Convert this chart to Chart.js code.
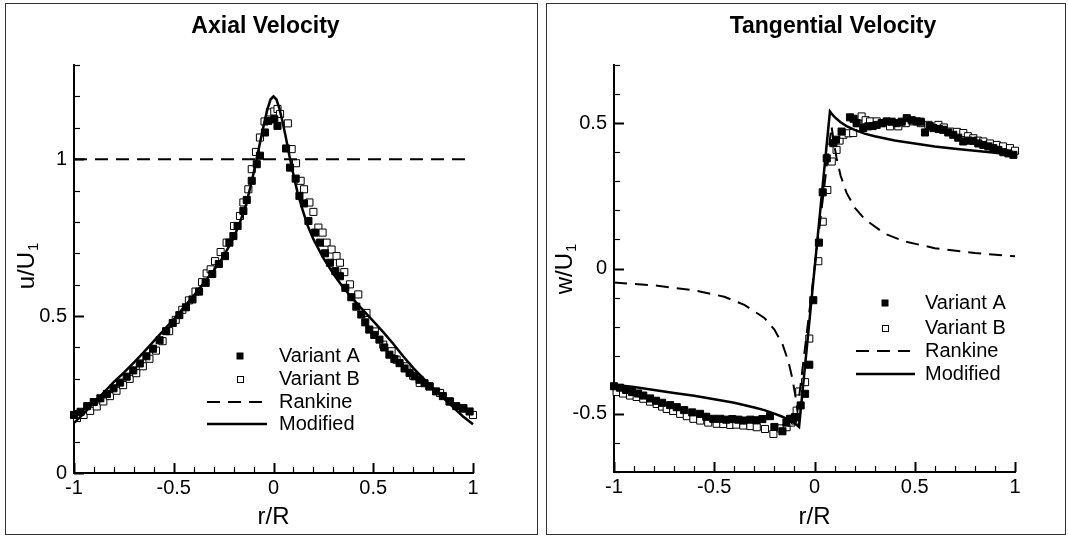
<!DOCTYPE html>
<html><head><meta charset="utf-8">
<script src="https://cdn.jsdelivr.net/npm/chart.js@4.4.1/dist/chart.umd.min.js"></script>
<style>
html,body{margin:0;padding:0;background:#fff;overflow:hidden;}
#wrap{position:relative;width:1068px;height:538px;overflow:hidden;}
.frame{position:absolute;border:1px solid #333;box-sizing:border-box;}
canvas{position:absolute;top:0;}
</style></head><body>
<div id="wrap">
<div class="frame" style="left:5px;top:3px;width:533px;height:532px"></div>
<div class="frame" style="left:546px;top:3px;width:520px;height:532px"></div>
<canvas id="c1" width="534" height="538" style="left:0"></canvas>
<canvas id="c2" width="600" height="538" style="left:534px"></canvas>
</div>
<script>
// ---------- Axial velocity (left panel) ----------
const axialModX = [-1,-0.95,-0.9,-0.85,-0.8,-0.75,-0.7,-0.65,-0.6,-0.55,-0.5,-0.45,-0.4,-0.35,-0.3,-0.25,-0.2,-0.17,-0.14,-0.12,-0.1,-0.08,-0.06,-0.045,-0.03,-0.015,0,0.015,0.03,0.045,0.06,0.08,0.1,0.12,0.14,0.17,0.2,0.25,0.3,0.35,0.4,0.45,0.5,0.55,0.6,0.65,0.7,0.75,0.8,0.85,0.9,0.95,1];
const axialModY = [0.16,0.19,0.225,0.257,0.29,0.32,0.352,0.385,0.42,0.455,0.49,0.527,0.565,0.605,0.645,0.69,0.75,0.795,0.85,0.9,0.955,1.015,1.075,1.12,1.16,1.19,1.2,1.19,1.16,1.12,1.075,1.01,0.95,0.895,0.85,0.79,0.745,0.685,0.635,0.59,0.553,0.518,0.484,0.449,0.412,0.372,0.335,0.302,0.27,0.24,0.21,0.18,0.155];
const axialRankX = [-1, 1];
const axialRankY = [1, 1];
const axialAX = [-1.000,-0.967,-0.934,-0.901,-0.868,-0.835,-0.802,-0.769,-0.736,-0.703,-0.670,-0.637,-0.604,-0.571,-0.538,-0.505,-0.472,-0.439,-0.406,-0.373,-0.340,-0.307,-0.274,-0.243,-0.221,-0.201,-0.180,-0.151,-0.134,-0.109,-0.084,-0.068,-0.043,-0.026,0.004,0.020,0.063,0.083,0.111,0.130,0.153,0.175,0.208,0.233,0.258,0.283,0.310,0.333,0.360,0.390,0.415,0.440,0.460,0.480,0.505,0.531,0.555,0.581,0.606,0.632,0.657,0.682,0.707,0.732,0.757,0.782,0.815,0.849,0.882,0.916,0.950,0.983];
const axialAY = [0.185,0.195,0.213,0.226,0.238,0.252,0.270,0.288,0.307,0.327,0.349,0.372,0.396,0.423,0.452,0.478,0.503,0.528,0.553,0.578,0.606,0.634,0.666,0.691,0.734,0.755,0.787,0.835,0.870,0.931,0.984,1.011,1.085,1.122,1.127,1.106,1.034,0.973,0.938,0.883,0.859,0.803,0.766,0.734,0.700,0.670,0.643,0.627,0.590,0.560,0.530,0.505,0.480,0.457,0.440,0.425,0.400,0.377,0.363,0.350,0.333,0.319,0.308,0.297,0.286,0.276,0.260,0.245,0.228,0.213,0.205,0.196];
const axialBX = [-0.985,-0.952,-0.919,-0.886,-0.853,-0.820,-0.787,-0.754,-0.721,-0.688,-0.655,-0.622,-0.589,-0.556,-0.523,-0.490,-0.457,-0.424,-0.391,-0.358,-0.335,-0.315,-0.293,-0.265,-0.235,-0.198,-0.168,-0.151,-0.126,-0.109,-0.088,-0.068,-0.045,-0.018,0.004,0.020,0.033,0.072,0.091,0.113,0.136,0.153,0.180,0.200,0.225,0.246,0.266,0.291,0.316,0.333,0.355,0.383,0.425,0.466,0.508,0.550,0.592,0.617,0.667,0.700,0.733,0.782,0.835,0.885,0.952,1.000];
const axialBY = [0.175,0.185,0.198,0.212,0.228,0.245,0.262,0.280,0.300,0.318,0.340,0.364,0.390,0.420,0.452,0.488,0.520,0.550,0.578,0.608,0.636,0.649,0.675,0.704,0.734,0.787,0.819,0.862,0.904,0.968,1.023,1.069,1.120,1.149,1.152,1.160,1.144,1.114,1.032,0.987,0.931,0.904,0.862,0.832,0.782,0.766,0.734,0.712,0.691,0.670,0.640,0.601,0.569,0.510,0.451,0.409,0.388,0.361,0.340,0.310,0.287,0.276,0.255,0.228,0.207,0.185];

// ---------- Tangential velocity (right panel) ----------
const tangModX = [-1,-0.9,-0.8,-0.7,-0.6,-0.5,-0.4,-0.3,-0.25,-0.2,-0.16,-0.13,-0.11,-0.095,-0.085,-0.077,0.077,0.085,0.095,0.11,0.13,0.16,0.2,0.25,0.3,0.4,0.5,0.6,0.7,0.8,0.9,1];
const tangModY = [-0.40,-0.408,-0.418,-0.428,-0.438,-0.45,-0.462,-0.478,-0.487,-0.499,-0.51,-0.52,-0.528,-0.535,-0.54,-0.545,0.54,0.533,0.525,0.515,0.503,0.49,0.477,0.464,0.455,0.44,0.43,0.42,0.412,0.405,0.398,0.39];
const tangRankX = [-1,-0.8,-0.6,-0.45,-0.35,-0.25,-0.2,-0.16,-0.13,-0.11,-0.095,-0.085,0,0.085,0.095,0.11,0.13,0.16,0.2,0.25,0.35,0.45,0.6,0.8,1];
const tangRankY = [-0.048,-0.058,-0.075,-0.097,-0.125,-0.17,-0.21,-0.26,-0.32,-0.38,-0.44,-0.49,0,0.49,0.44,0.38,0.32,0.26,0.21,0.17,0.12,0.093,0.07,0.053,0.042];
const tangAX = [-1.000,-0.970,-0.940,-0.910,-0.880,-0.854,-0.820,-0.790,-0.760,-0.720,-0.687,-0.650,-0.610,-0.571,-0.540,-0.505,-0.470,-0.440,-0.410,-0.380,-0.355,-0.320,-0.290,-0.260,-0.222,-0.200,-0.160,-0.140,-0.122,-0.106,-0.097,-0.069,-0.047,-0.026,-0.006,0.022,0.041,0.061,0.094,0.107,0.135,0.177,0.195,0.210,0.243,0.268,0.290,0.310,0.335,0.360,0.385,0.410,0.435,0.460,0.485,0.510,0.530,0.551,0.575,0.593,0.620,0.642,0.667,0.692,0.717,0.742,0.767,0.792,0.817,0.842,0.867,0.892,0.917,0.942,0.967,0.992];
const tangAY = [-0.405,-0.410,-0.418,-0.425,-0.430,-0.437,-0.447,-0.455,-0.462,-0.470,-0.477,-0.487,-0.495,-0.500,-0.510,-0.517,-0.517,-0.520,-0.518,-0.520,-0.523,-0.520,-0.522,-0.518,-0.508,-0.545,-0.560,-0.530,-0.517,-0.517,-0.511,-0.471,-0.431,-0.331,-0.109,0.089,0.262,0.379,0.431,0.443,0.471,0.520,0.515,0.500,0.483,0.489,0.490,0.494,0.500,0.506,0.505,0.500,0.505,0.517,0.510,0.506,0.505,0.468,0.490,0.483,0.480,0.477,0.468,0.460,0.450,0.437,0.440,0.439,0.430,0.425,0.420,0.414,0.408,0.400,0.396,0.391];
const tangBX = [-0.987,-0.955,-0.920,-0.887,-0.854,-0.820,-0.787,-0.760,-0.737,-0.705,-0.670,-0.637,-0.604,-0.570,-0.530,-0.488,-0.455,-0.420,-0.390,-0.355,-0.320,-0.288,-0.247,-0.205,-0.170,-0.139,-0.115,-0.097,-0.089,-0.076,-0.047,-0.026,0.019,0.041,0.064,0.086,0.110,0.125,0.144,0.170,0.193,0.215,0.235,0.255,0.277,0.310,0.340,0.377,0.418,0.455,0.493,0.530,0.568,0.618,0.645,0.676,0.710,0.742,0.765,0.792,0.815,0.842,0.875,0.909,0.940,0.975,1.000];
const tangBY = [-0.425,-0.430,-0.437,-0.442,-0.448,-0.458,-0.466,-0.475,-0.483,-0.490,-0.500,-0.508,-0.517,-0.523,-0.530,-0.534,-0.535,-0.538,-0.537,-0.540,-0.542,-0.546,-0.552,-0.569,-0.550,-0.546,-0.530,-0.523,-0.489,-0.423,-0.391,-0.241,0.025,0.161,0.270,0.368,0.408,0.440,0.460,0.465,0.466,0.500,0.523,0.510,0.506,0.506,0.500,0.489,0.489,0.500,0.506,0.500,0.494,0.494,0.485,0.471,0.470,0.466,0.455,0.448,0.440,0.437,0.430,0.425,0.420,0.414,0.405];

const seriesNames = ['Variant A', 'Variant B', 'Rankine', 'Modified'];

const FONT = "'Liberation Sans', Arial, Helvetica, sans-serif";
Chart.defaults.font.family = FONT;
Chart.defaults.color = '#000';

const pts = (xs, ys) => xs.map((x, i) => ({x: x, y: ys[i]}));
const isMajor = v => Math.abs(v * 2 - Math.round(v * 2)) < 1e-6;
const fmtTick = v => { const r = Math.round(v * 100) / 100; return isMajor(r) ? String(r === 0 ? 0 : r) : ''; };

const inwardTicks = {
  id: 'inwardTicks',
  beforeDatasetsDraw(chart) {
    const ctx = chart.ctx, a = chart.chartArea;
    const xs = chart.scales.x, ys = chart.scales.y;
    ctx.save();
    ctx.strokeStyle = '#000';
    xs.ticks.forEach(t => {
      const p = Math.round(xs.getPixelForValue(t.value)) + 0.5;
      const maj = isMajor(t.value);
      ctx.lineWidth = maj ? 2 : 1.2;
      ctx.beginPath(); ctx.moveTo(p, a.bottom); ctx.lineTo(p, a.bottom - (maj ? 10 : 6)); ctx.stroke();
    });
    ys.ticks.forEach(t => {
      const p = Math.round(ys.getPixelForValue(t.value)) + 0.5;
      const maj = isMajor(t.value);
      ctx.lineWidth = maj ? 2 : 1.2;
      ctx.beginPath(); ctx.moveTo(a.left, p); ctx.lineTo(a.left + (maj ? 10 : 6), p); ctx.stroke();
    });
    ctx.restore();
  }
};

const panelLegend = {
  id: 'panelLegend',
  afterDraw(chart, args, o) {
    const ctx = chart.ctx;
    const labels = chart.data.datasets.map(d => d.label);
    ctx.save();
    ctx.fillStyle = '#000'; ctx.strokeStyle = '#000';
    const s = 7;
    ctx.fillRect(o.symX - s / 2, o.rows[0] - s / 2, s, s);
    ctx.lineWidth = 1;
    ctx.strokeRect(Math.round(o.symX - s / 2) + 0.5, Math.round(o.rows[1] - s / 2) + 0.5, s - 1, s - 1);
    ctx.lineWidth = 2; ctx.setLineDash([13, 8]);
    ctx.beginPath(); ctx.moveTo(o.lx0, o.rows[2]); ctx.lineTo(o.lx1, o.rows[2]); ctx.stroke();
    ctx.setLineDash([]); ctx.lineWidth = 2.5;
    ctx.beginPath(); ctx.moveTo(o.lx0, o.rows[3]); ctx.lineTo(o.lx2, o.rows[3]); ctx.stroke();
    ctx.font = '20px ' + FONT; ctx.textBaseline = 'middle'; ctx.textAlign = 'left';
    labels.forEach((t, i) => ctx.fillText(t, o.tx, o.rows[i]));
    ctx.restore();
  }
};

const yTitleSub = {
  id: 'yTitleSub',
  afterDraw(chart, args, o) {
    const ctx = chart.ctx;
    ctx.save();
    ctx.translate(o.x, o.y);
    ctx.rotate(-Math.PI / 2);
    ctx.fillStyle = '#000';
    ctx.textBaseline = 'middle'; ctx.textAlign = 'left';
    const mf = '24px ' + FONT, sf = '15px ' + FONT;
    ctx.font = mf; const w1 = ctx.measureText(o.main).width;
    ctx.font = sf; const w2 = ctx.measureText(o.sub).width;
    const st = -(w1 + w2 + 1) / 2;
    ctx.font = mf; ctx.fillText(o.main, st, 0);
    ctx.font = sf; ctx.fillText(o.sub, st + w1 + 1, 7);
    ctx.restore();
  }
};

function makeScales(ymin, ymax, yWidth, rWidth, xHeight) {
  const tickFont = {size: 20, family: FONT};
  return {
    x: {
      type: 'linear', position: 'bottom', min: -1, max: 1,
      ticks: {stepSize: 0.1, autoSkip: false, maxRotation: 0, padding: 3, color: '#000', font: tickFont, callback: fmtTick},
      grid: {display: false, drawTicks: false},
      border: {display: true, color: '#000', width: 2},
      title: {display: true, text: 'r/R', color: '#000', font: {size: 24, family: FONT}, padding: {top: 0, bottom: 6}},
      afterFit: s => { s.height = xHeight; }
    },
    y: {
      type: 'linear', position: 'left', min: ymin, max: ymax,
      ticks: {stepSize: 0.1, autoSkip: false, padding: 7, color: '#000', font: tickFont, callback: fmtTick},
      grid: {display: false, drawTicks: false},
      border: {display: true, color: '#000', width: 2},
      afterFit: s => { s.width = yWidth; }
    },
    yR: {
      type: 'linear', position: 'right', display: true,
      ticks: {display: false}, grid: {display: false, drawTicks: false}, border: {display: false},
      afterFit: s => { s.width = rWidth; }
    }
  };
}

function makeDatasets(ax, ay, bx, by, rx, ry, mx, my) {
  return [
    {label: seriesNames[0], type: 'scatter', data: pts(ax, ay), pointStyle: 'rect', pointRadius: 5, backgroundColor: '#000', borderColor: '#000', borderWidth: 1, order: 2, clip: false},
    {label: seriesNames[1], type: 'scatter', data: pts(bx, by), pointStyle: 'rect', pointRadius: 5, backgroundColor: '#fff', borderColor: '#000', borderWidth: 1, order: 3, clip: false},
    {label: seriesNames[2], type: 'line', data: pts(rx, ry), borderColor: '#000', borderWidth: 2, borderDash: [13, 8], pointRadius: 0, fill: false, tension: 0, order: 1, clip: false},
    {label: seriesNames[3], type: 'line', data: pts(mx, my), borderColor: '#000', borderWidth: 2.5, pointRadius: 0, fill: false, tension: 0, order: 0, clip: false}
  ];
}

new Chart(document.getElementById('c1'), {
  type: 'scatter',
  data: {datasets: makeDatasets(axialAX, axialAY, axialBX, axialBY, axialRankX, axialRankY, axialModX, axialModY)},
  options: {
    responsive: false, animation: false, events: [],
    layout: {padding: {left: 0, right: 3, top: 0, bottom: 0}},
    plugins: {
      legend: {display: false}, tooltip: {enabled: false},
      title: {display: true, text: 'Axial Velocity', color: '#000', font: {size: 23, weight: 'bold', family: FONT}, padding: {top: 13, bottom: 24.4}},
      panelLegend: {symX: 240, lx0: 207, lx1: 263, lx2: 267, tx: 279, rows: [356, 379, 402, 424]},
      yTitleSub: {x: 27, y: 266, main: 'u/U', sub: '1'}
    },
    scales: makeScales(0, 1.3, 74, 58, 65)
  },
  plugins: [inwardTicks, panelLegend, yTitleSub]
});

new Chart(document.getElementById('c2'), {
  type: 'scatter',
  data: {datasets: makeDatasets(tangAX, tangAY, tangBX, tangBY, tangRankX, tangRankY, tangModX, tangModY)},
  options: {
    responsive: false, animation: false, events: [],
    layout: {padding: {left: 0, right: 2, top: 0, bottom: 0}},
    plugins: {
      legend: {display: false}, tooltip: {enabled: false},
      title: {display: true, text: 'Tangential Velocity', color: '#000', font: {size: 23, weight: 'bold', family: FONT}, padding: {top: 13, bottom: 24.4}},
      panelLegend: {symX: 351, lx0: 322, lx1: 376, lx2: 381, tx: 391, rows: [303, 328, 351, 374]},
      yTitleSub: {x: 31, y: 269, main: 'w/U', sub: '1'}
    },
    scales: makeScales(-0.7, 0.7, 80, 117, 66)
  },
  plugins: [inwardTicks, panelLegend, yTitleSub]
});
</script>
</body></html>
